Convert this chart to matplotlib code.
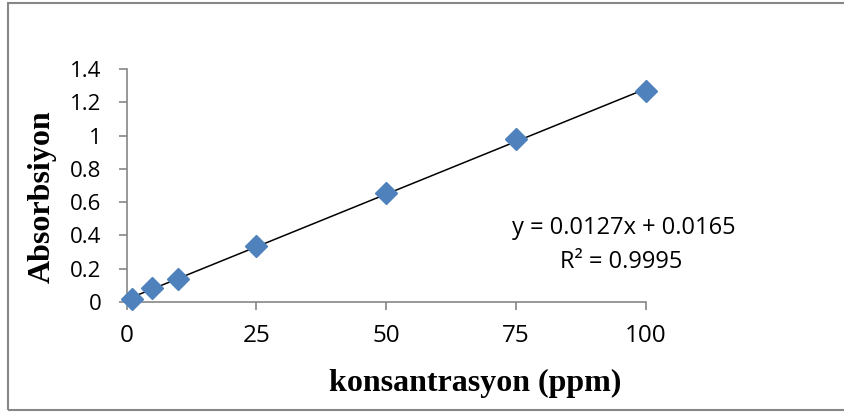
import matplotlib
matplotlib.use("Agg")
import matplotlib.pyplot as plt
from matplotlib.patches import Rectangle
import numpy as np

konsantrasyon = [1, 5, 10, 25, 50, 75, 100]
absorbsiyon = [0.015, 0.084, 0.135, 0.335, 0.653, 0.978, 1.270]
x_ticks = [0, 25, 50, 75, 100]
y_ticks = [0, 0.2, 0.4, 0.6, 0.8, 1.0, 1.2, 1.4]
y_tick_labels = ['0', '0.2', '0.4', '0.6', '0.8', '1', '1.2', '1.4']
equation = 'y = 0.0127x + 0.0165'
r_squared = 'R² = 0.9995'

axis_gray = '#868686'
tick_font = 'Open Sans'
label_font = 'Liberation Serif'

fig = plt.figure(figsize=(8.44, 4.12), dpi=100)
ax = fig.add_axes([0.1499, 0.2677, 0.6155, 0.5641])

# linear trendline through the points
slope, intercept = np.polyfit(konsantrasyon, absorbsiyon, 1)
xs = np.array([konsantrasyon[0], konsantrasyon[-1]])
ax.plot(xs, slope * xs + intercept, color='black', lw=1.1, zorder=2)

ax.plot(konsantrasyon, absorbsiyon, linestyle='none', marker='D', ms=11,
        color='#4F81BD', markeredgecolor='#4F81BD', zorder=3, clip_on=False)

ax.set_xlim(0, 100)
ax.set_ylim(0, 1.4)
ax.set_xticks(x_ticks)
ax.set_yticks(y_ticks)
ax.set_yticklabels(y_tick_labels)

for s in ['top', 'right']:
    ax.spines[s].set_visible(False)
for s in ['left', 'bottom']:
    ax.spines[s].set_color(axis_gray)
    ax.spines[s].set_linewidth(1.2)

ax.tick_params(axis='both', direction='out', length=6, width=1.2, color=axis_gray,
               labelfontfamily=tick_font)
ax.tick_params(axis='x', pad=10, labelsize=17.5)
ax.tick_params(axis='y', pad=12, labelsize=16)

ax.text(95.7, 0.444, equation, ha='center', va='center', family=tick_font, fontsize=17)
ax.text(95.3, 0.239, r_squared, ha='center', va='center', family=tick_font, fontsize=17)

fig.text(0.05, 0.522, 'Absorbsiyon', rotation=90, ha='center', va='center',
         family=label_font, weight='bold', fontsize=23)
fig.text(0.563, 0.07, 'konsantrasyon (ppm)', ha='center', va='center',
         family=label_font, weight='bold', fontsize=23)

# outer chart frame
fig.patches.append(Rectangle((0.0095, 0.005), 1.0, 0.988, transform=fig.transFigure,
                             fill=False, edgecolor='#878787', lw=1.5))

fig.savefig('out.png', dpi=100)
